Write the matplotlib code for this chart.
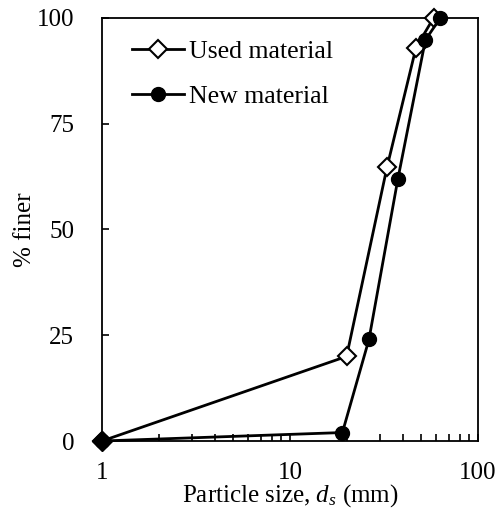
import matplotlib
matplotlib.use("Agg")
import matplotlib.pyplot as plt
from matplotlib.ticker import LogLocator, FixedLocator, NullFormatter

plt.rcParams['font.family'] = ['Liberation Serif', 'DejaVu Serif']
plt.rcParams['mathtext.fontset'] = 'custom'
plt.rcParams['mathtext.rm'] = 'Liberation Serif'
plt.rcParams['mathtext.it'] = 'Liberation Serif:italic'

used_size = [1, 20, 32.8, 46.8, 58]
used_finer = [0, 20, 64.7, 93, 100]
new_size = [1, 19, 26.3, 37.5, 52.5, 63]
new_finer = [0, 2, 24, 62, 94.8, 100]
x_ticks = [1, 10, 100]
y_ticks = [0, 25, 50, 75, 100]

fig = plt.figure(figsize=(5.01, 5.23), dpi=100)
ax = fig.add_axes([102/501, 1-441/523, 376/501, 423/523])

ax.plot(used_size, used_finer, color='black', lw=2.0, marker='D', ms=9,
        mfc='white', mec='black', mew=1.5, label='Used material', clip_on=False, zorder=3)
ax.plot(new_size, new_finer, color='black', lw=2.0, marker='o', ms=10,
        mfc='black', mec='black', label='New material', clip_on=False, zorder=4)
ax.plot(used_size[:1], used_finer[:1], marker='D', ms=10, color='black',
        ls='none', clip_on=False, zorder=5)

ax.set_xscale('log')
ax.set_xlim(1, 100)
ax.set_ylim(0, 100)
ax.xaxis.set_major_locator(FixedLocator(x_ticks))
ax.set_xticklabels([str(t) for t in x_ticks])
ax.xaxis.set_minor_locator(LogLocator(base=10, subs=range(2, 10)))
ax.xaxis.set_minor_formatter(NullFormatter())
ax.yaxis.set_major_locator(FixedLocator(y_ticks))
ax.tick_params(axis='both', which='both', direction='in', labelsize=18,
               width=1.2, top=False, right=False)
ax.tick_params(axis='y', which='major', length=5, pad=20)
ax.tick_params(axis='x', which='major', length=5, pad=15)
ax.tick_params(axis='x', which='minor', length=5)
for s in ax.spines.values():
    s.set_linewidth(1.3)

ax.set_xlabel('Particle size, $\\mathit{d}_\\mathit{s}$ (mm)', fontsize=18, labelpad=-1)
ax.set_ylabel('% finer', fontsize=18)
ax.yaxis.set_label_coords(-0.175, 0.5)

leg = ax.legend(loc='upper left', frameon=False, fontsize=18.5, handlelength=2.0,
                handletextpad=0.2, borderaxespad=0.3, labelspacing=0.85,
                bbox_to_anchor=(0.033, 0.99))

fig.savefig('out.png', dpi=100)
